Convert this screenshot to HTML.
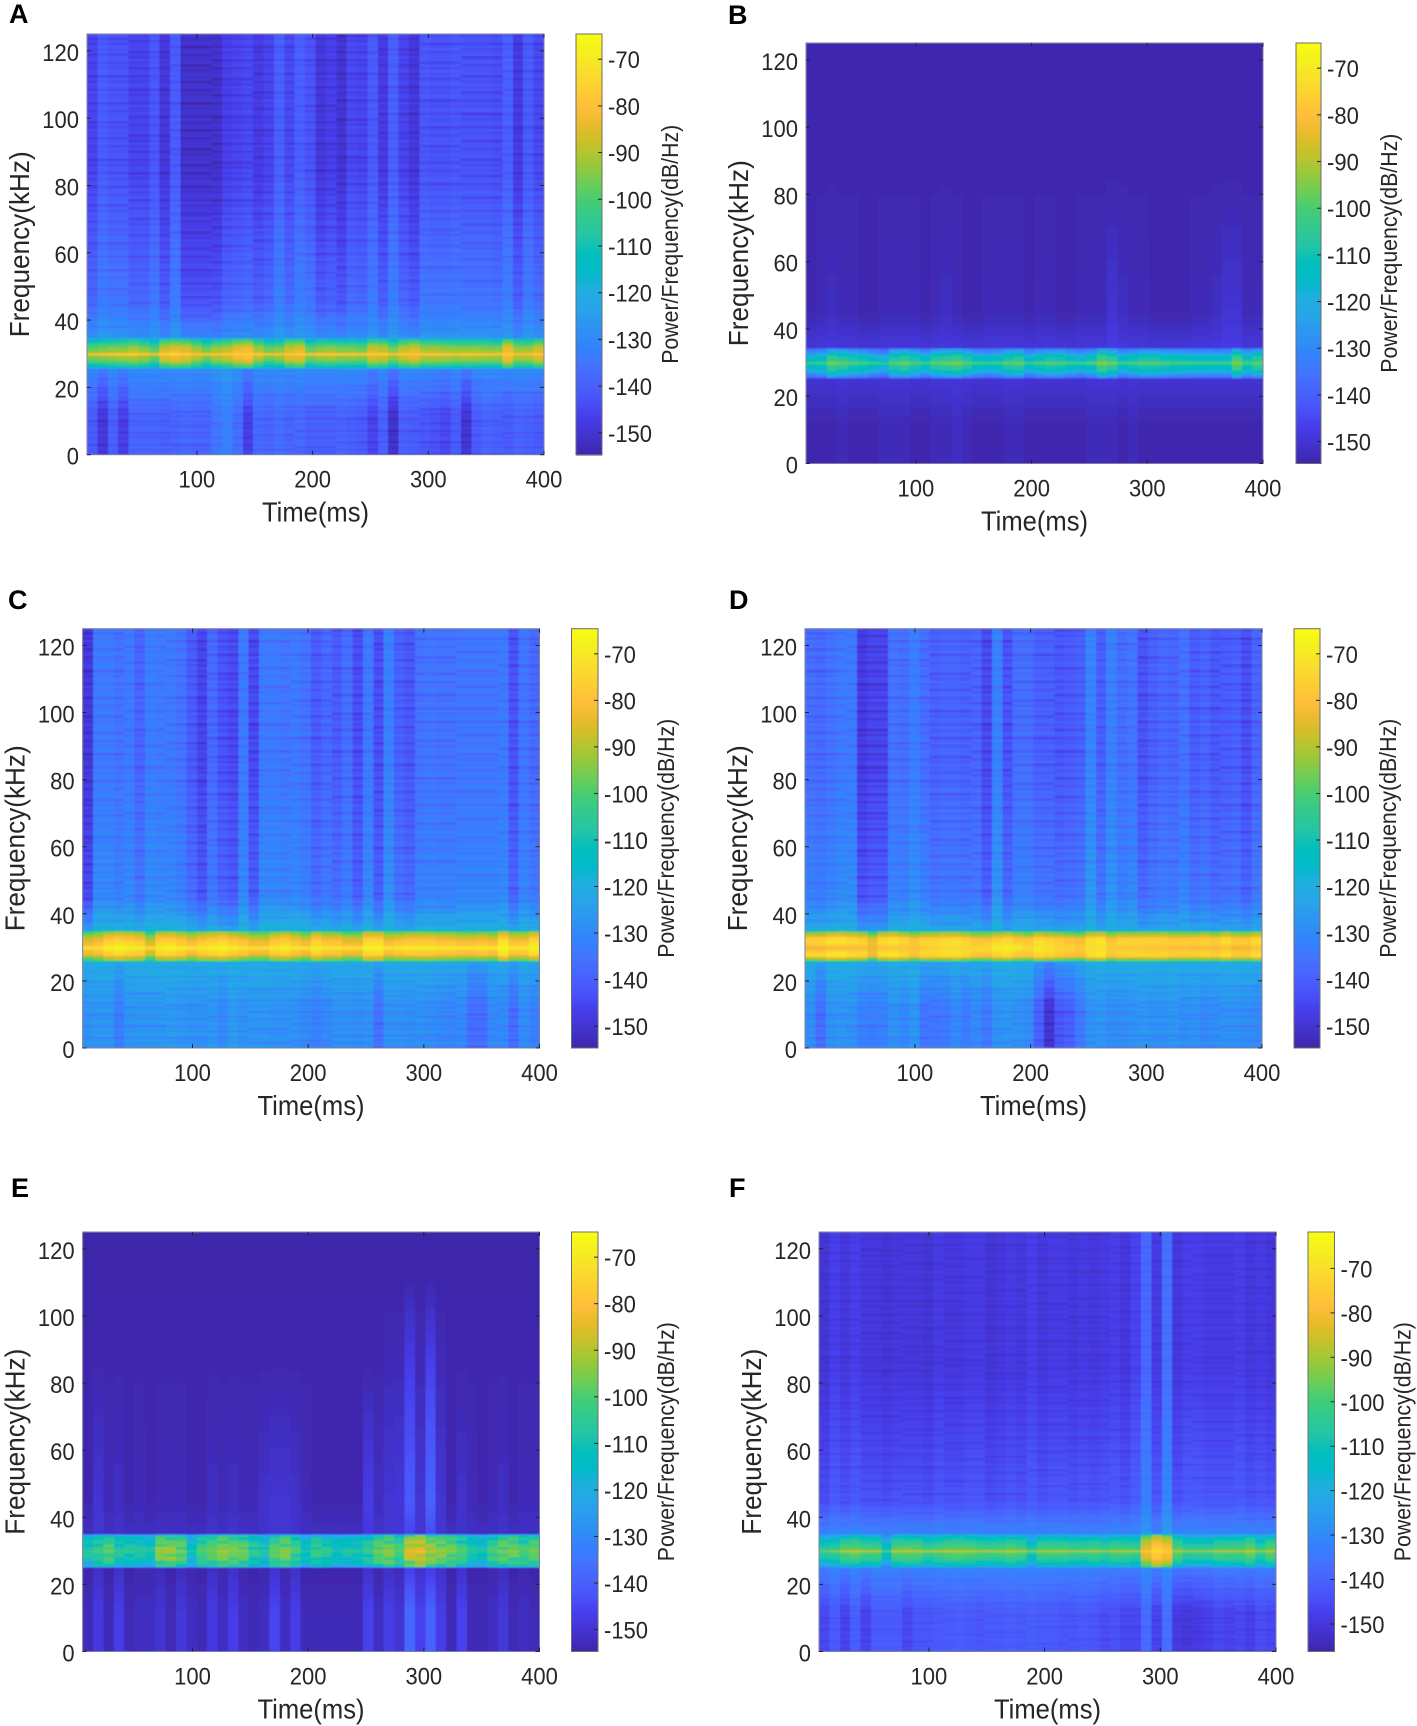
<!DOCTYPE html>
<html lang="en">
<head>
<meta charset="utf-8">
<title>Spectrogram panels A-F</title>
<style>
html,body{margin:0;padding:0;background:#fff;}
svg{display:block;}
text{font-family:"Liberation Sans",Arial,sans-serif;fill:#262626;}
.letter{font-size:27px;font-weight:bold;fill:#000;}
.axt{font-size:28px;text-anchor:middle;}
.cbt{font-size:23px;text-anchor:middle;}
.tick{font-size:24px;}
</style>
</head>
<body>
<svg id="figure" xmlns="http://www.w3.org/2000/svg" width="1417" height="1726" viewBox="0 0 1417 1726">
<defs>
<filter id="soft" x="-2%" y="-2%" width="104%" height="104%"><feGaussianBlur stdDeviation="0.55"/></filter>
<clipPath id="clip-A"><rect x="87" y="34" width="457" height="420.7"/></clipPath>
<clipPath id="clip-B"><rect x="806" y="43" width="457" height="420.5"/></clipPath>
<clipPath id="clip-C"><rect x="82.6" y="628.7" width="457" height="419.3"/></clipPath>
<clipPath id="clip-D"><rect x="805" y="628.7" width="457" height="419.3"/></clipPath>
<clipPath id="clip-E"><rect x="82.6" y="1232" width="457" height="419.5"/></clipPath>
<clipPath id="clip-F"><rect x="819" y="1232" width="457" height="419.5"/></clipPath>
</defs>
<g id="layer"></g>

<text class="letter" x="9" y="23">A</text>
<text class="axt" x="315.5" y="521.7" textLength="107" lengthAdjust="spacingAndGlyphs">Time(ms)</text>
<text class="axt" transform="translate(29,244.3) rotate(-90)" textLength="186" lengthAdjust="spacingAndGlyphs">Frequency(kHz)</text>
<text class="cbt" transform="translate(678,244.3) rotate(-90)" textLength="239" lengthAdjust="spacingAndGlyphs">Power/Frequency(dB/Hz)</text>

<text class="letter" x="728" y="24">B</text>
<text class="axt" x="1034.5" y="530.5" textLength="107" lengthAdjust="spacingAndGlyphs">Time(ms)</text>
<text class="axt" transform="translate(748,253.2) rotate(-90)" textLength="186" lengthAdjust="spacingAndGlyphs">Frequency(kHz)</text>
<text class="cbt" transform="translate(1397,253.2) rotate(-90)" textLength="239" lengthAdjust="spacingAndGlyphs">Power/Frequency(dB/Hz)</text>

<text class="letter" x="8" y="609">C</text>
<text class="axt" x="311" y="1115" textLength="107" lengthAdjust="spacingAndGlyphs">Time(ms)</text>
<text class="axt" transform="translate(24.6,838.3) rotate(-90)" textLength="186" lengthAdjust="spacingAndGlyphs">Frequency(kHz)</text>
<text class="cbt" transform="translate(674,838.3) rotate(-90)" textLength="239" lengthAdjust="spacingAndGlyphs">Power/Frequency(dB/Hz)</text>

<text class="letter" x="729" y="609">D</text>
<text class="axt" x="1033.5" y="1115" textLength="107" lengthAdjust="spacingAndGlyphs">Time(ms)</text>
<text class="axt" transform="translate(747,838.3) rotate(-90)" textLength="186" lengthAdjust="spacingAndGlyphs">Frequency(kHz)</text>
<text class="cbt" transform="translate(1396,838.3) rotate(-90)" textLength="239" lengthAdjust="spacingAndGlyphs">Power/Frequency(dB/Hz)</text>

<text class="letter" x="11" y="1197">E</text>
<text class="axt" x="311" y="1718.5" textLength="107" lengthAdjust="spacingAndGlyphs">Time(ms)</text>
<text class="axt" transform="translate(24.6,1441.7) rotate(-90)" textLength="186" lengthAdjust="spacingAndGlyphs">Frequency(kHz)</text>
<text class="cbt" transform="translate(674,1441.7) rotate(-90)" textLength="239" lengthAdjust="spacingAndGlyphs">Power/Frequency(dB/Hz)</text>

<text class="letter" x="729" y="1197">F</text>
<text class="axt" x="1047.5" y="1718.5" textLength="107" lengthAdjust="spacingAndGlyphs">Time(ms)</text>
<text class="axt" transform="translate(761,1441.7) rotate(-90)" textLength="186" lengthAdjust="spacingAndGlyphs">Frequency(kHz)</text>
<text class="cbt" transform="translate(1410.5,1441.7) rotate(-90)" textLength="239" lengthAdjust="spacingAndGlyphs">Power/Frequency(dB/Hz)</text>
</svg>

<script>
/* Axis tick labels */
const timeTicks = [100, 200, 300, 400];
const freqTicks = [0, 20, 40, 60, 80, 100, 120];
const dbTicks = [-70, -80, -90, -100, -110, -120, -130, -140, -150];

/* Panel A: dB per time column */
const topA = [-146,-141,-143,-143,-146,-146,-142,-149,-141,-151,-151,-151,-151,-147,-146,-145,-148,-146,-140,-145,-140,-143,-149,-147,-150,-145,-146,-141,-148,-140,-146,-149,-142,-143,-143,-142,-143,-143,-143,-144,-140,-148,-141,-145];
const lowA = [-141,-149,-140,-147,-139,-139,-139,-140,-139,-138,-139,-139,-135,-132,-137,-147,-138,-139,-137,-139,-138,-140,-140,-140,-139,-140,-141,-146,-140,-151,-140,-141,-142,-143,-145,-141,-150,-141,-139,-140,-141,-139,-140,-141];
const bandA = [-98,-96,-95,-94,-92,-95,-100,-88,-85,-87,-92,-98,-93,-90,-85,-83,-92,-98,-96,-88,-86,-98,-95,-94,-96,-96,-97,-88,-90,-96,-90,-87,-92,-92,-93,-94,-94,-94,-95,-95,-84,-93,-93,-88];
const coreA = [-76,-74,-73,-73,-73,-75,-76,-74,-72,-74,-76,-74,-75,-76,-76,-76,-74,-76,-75,-76,-75,-74,-73,-73,-73,-74,-74,-76,-72,-76,-76,-78,-75,-75,-75,-76,-74,-75,-75,-76,-76,-78,-76,-76];

/* Panel B */
const topB = [-154,-154,-154,-154,-154,-154,-154,-154,-154,-154,-154,-154,-154,-154,-154,-154,-154,-154,-154,-154,-154,-154,-154,-154,-154,-154,-154,-154,-154,-154,-154,-154,-154,-154,-154,-154,-154,-154,-154,-154,-154,-154,-154,-154];
const midB = [-154,-153,-152,-153,-153,-154,-154,-153,-153,-153,-153,-154,-153,-152,-153,-154,-154,-153,-153,-153,-153,-154,-153,-153,-154,-154,-153,-153,-153,-150,-152,-153,-153,-154,-154,-154,-154,-153,-153,-152,-150,-150,-153,-153];
const lowB = [-154,-154,-154,-153,-154,-154,-154,-153,-153,-153,-154,-154,-153,-153,-152,-153,-154,-154,-154,-153,-153,-154,-154,-154,-154,-154,-154,-153,-153,-153,-154,-153,-154,-154,-154,-154,-154,-154,-154,-154,-154,-154,-154,-154];
const bandB = [-114,-112,-102,-105,-108,-110,-114,-117,-106,-104,-108,-113,-106,-104,-102,-107,-112,-114,-112,-107,-105,-114,-110,-108,-108,-112,-114,-110,-100,-104,-113,-110,-107,-107,-109,-110,-111,-112,-112,-113,-112,-100,-110,-105];
const coreB = [-100,-99,-93,-94,-97,-98,-99,-100,-96,-93,-97,-98,-95,-93,-92,-96,-98,-99,-98,-95,-94,-98,-96,-95,-96,-98,-98,-95,-92,-93,-97,-96,-95,-95,-96,-97,-97,-98,-98,-98,-97,-92,-97,-95];

/* Panel C */
const topC = [-149,-134,-134,-136,-134,-139,-133,-134,-134,-136,-141,-146,-138,-143,-145,-134,-145,-134,-134,-135,-134,-136,-141,-138,-141,-137,-144,-134,-144,-132,-140,-142,-136,-135,-136,-136,-135,-135,-135,-135,-134,-143,-135,-138];
const lowC = [-128,-127,-127,-133,-128,-127,-127,-127,-126,-127,-128,-128,-127,-130,-126,-128,-127,-127,-128,-128,-128,-130,-132,-130,-128,-128,-129,-128,-136,-128,-128,-129,-128,-129,-130,-131,-130,-137,-137,-130,-130,-137,-129,-132];
const bandC = [-85,-82,-76,-74,-76,-78,-88,-76,-75,-78,-82,-78,-76,-74,-78,-80,-84,-84,-78,-76,-80,-84,-76,-80,-80,-84,-84,-74,-74,-82,-80,-78,-78,-78,-80,-80,-82,-82,-80,-82,-72,-80,-80,-74];
const coreC = [-70,-70,-67,-67,-67,-68,-72,-68,-67,-68,-69,-68,-68,-67,-68,-69,-70,-70,-68,-68,-69,-70,-68,-69,-69,-70,-70,-67,-67,-69,-68,-68,-68,-68,-68,-68,-69,-69,-68,-69,-66,-68,-68,-67];

/* Panel D */
const topD = [-137,-138,-136,-134,-134,-148,-146,-146,-136,-137,-133,-137,-140,-139,-139,-140,-139,-145,-132,-143,-137,-137,-140,-140,-142,-141,-140,-131,-140,-132,-137,-135,-143,-140,-138,-139,-136,-141,-139,-142,-141,-140,-144,-139];
const lowD = [-129,-137,-128,-127,-128,-132,-133,-132,-128,-130,-127,-135,-135,-134,-130,-133,-130,-134,-128,-127,-128,-129,-140,-150,-142,-140,-134,-128,-127,-129,-129,-128,-127,-128,-128,-127,-129,-128,-130,-129,-128,-128,-129,-130];
const bandD = [-74,-74,-70,-70,-72,-74,-82,-72,-70,-74,-78,-74,-74,-72,-72,-74,-78,-78,-74,-72,-76,-78,-72,-74,-76,-78,-80,-72,-70,-78,-74,-74,-74,-74,-74,-76,-76,-76,-74,-76,-72,-76,-76,-72];
const coreD = [-84,-84,-82,-82,-82,-82,-84,-80,-79,-79,-79,-77,-76,-74,-74,-74,-73,-73,-70,-69,-70,-73,-70,-73,-74,-74,-76,-73,-72,-76,-78,-78,-79,-79,-80,-80,-80,-82,-82,-82,-80,-84,-84,-80];

/* Panel E */
const topE = [-154,-154,-154,-154,-154,-154,-154,-154,-154,-154,-154,-154,-154,-154,-154,-154,-154,-154,-154,-154,-154,-154,-154,-154,-154,-154,-154,-154,-154,-153,-153,-147,-153,-146,-153,-154,-154,-154,-154,-154,-154,-154,-154,-154];
const midE = [-154,-150,-153,-152,-154,-153,-154,-153,-153,-153,-154,-154,-152,-153,-152,-153,-153,-151,-150,-150,-151,-153,-154,-154,-154,-154,-154,-147,-152,-150,-149,-141,-150,-139,-150,-154,-151,-153,-154,-153,-152,-154,-153,-153];
const lowE = [-153,-148,-153,-147,-153,-152,-152,-150,-153,-149,-152,-153,-148,-152,-147,-152,-153,-152,-145,-152,-147,-153,-153,-153,-153,-153,-153,-146,-152,-147,-150,-138,-146,-139,-147,-153,-146,-153,-153,-152,-149,-153,-152,-153];
const bandE = [-107,-102,-98,-106,-106,-107,-109,-93,-92,-96,-110,-100,-97,-92,-95,-96,-104,-108,-98,-94,-100,-110,-102,-105,-110,-108,-108,-103,-96,-93,-100,-86,-84,-90,-93,-95,-100,-108,-110,-100,-96,-95,-100,-97];
const coreE = [-104,-100,-96,-103,-103,-104,-106,-91,-90,-94,-107,-98,-95,-90,-93,-94,-101,-105,-96,-92,-98,-107,-100,-102,-107,-105,-105,-100,-94,-91,-97,-83,-81,-88,-91,-93,-98,-105,-107,-98,-94,-92,-98,-94];

/* Panel F */
const topF = [-151,-148,-150,-148,-150,-150,-151,-150,-150,-150,-151,-149,-150,-150,-149,-149,-151,-150,-149,-150,-148,-150,-149,-149,-150,-149,-150,-149,-148,-150,-147,-139,-149,-137,-150,-148,-148,-149,-149,-149,-148,-150,-149,-150];
const lowF = [-146,-142,-147,-141,-147,-142,-142,-142,-146,-143,-143,-142,-142,-141,-142,-143,-142,-142,-141,-142,-141,-142,-142,-143,-143,-142,-143,-145,-144,-146,-146,-138,-147,-137,-149,-150,-149,-148,-146,-147,-146,-148,-145,-146];
const bandF = [-106,-104,-98,-97,-100,-100,-112,-98,-97,-98,-102,-100,-98,-97,-98,-100,-101,-100,-98,-100,-108,-100,-100,-100,-102,-102,-100,-103,-100,-100,-102,-82,-74,-78,-98,-104,-104,-104,-100,-100,-100,-96,-104,-98];
const coreF = [-94,-90,-85,-84,-85,-86,-96,-85,-84,-84,-86,-85,-84,-84,-85,-85,-86,-86,-85,-86,-90,-86,-86,-86,-87,-87,-86,-88,-86,-86,-86,-76,-70,-74,-86,-88,-88,-88,-86,-85,-86,-84,-88,-85];

/* Fine horizontal streak offsets in dB, row by row */
const rowStreak = [0.5,-1.2,0.8,0.2,-2.1,1.0,0.3,-0.6,1.2,-1.5,0.4,0.9,-0.8,0.1,-2.4,0.7,1.1,-0.4,0.2,-1.3,0.9,0.5,-1.8,0.6,-0.2,1.0,-1.0,0.3,-2.0,0.8,0.4];

/* MATLAB parula, RGB 0-255 */
const parula = [[62,38,168],[66,50,204],[70,60,233],[72,82,248],[71,99,253],[66,117,254],[50,131,252],[46,147,243],[39,163,234],[32,174,224],[3,186,200],[2,191,188],[36,197,166],[49,202,141],[72,205,114],[114,205,82],[157,200,55],[197,194,42],[230,187,41],[254,190,60],[253,205,50],[249,222,45],[245,239,30],[249,251,21]];

const timeStart = 5;
const timeEnd = 400;
const columnCount = 44;
const freqMax = 125;

const panels = [
 {id:'a',L:87,T:34,R:544,B:454.7,cL:576,cR:602,dbMin:-154.7,dbMax:-64.6,top:topA,low:lowA,band:bandA,core:coreA,midLift:8,up:-128,dn:-130,lo:25.8,hi:34.7,drop:22,bandLift:3,streak:1.4,bandTex:0.5,coreW:0.6},
 {id:'b',L:806,T:43,R:1263,B:463.5,cL:1296,cR:1321,dbMin:-154.7,dbMax:-64.6,top:topB,mid:midB,low:lowB,band:bandB,core:coreB,midLift:0,up:-149,dn:-150,lo:25.6,hi:34.4,drop:22,bandLift:0,streak:0,bandTex:0.5,coreW:0.6},
 {id:'c',L:82.6,T:628.7,R:539.5,B:1048,cL:571.5,cR:598,dbMin:-154.7,dbMax:-64.6,top:topC,low:lowC,band:bandC,core:coreC,midLift:4,up:-120,dn:-122,lo:26,hi:35,drop:20,bandLift:3,streak:1.8,bandTex:0.5,coreW:0.8},
 {id:'d',L:805,T:628.7,R:1262,B:1048,cL:1294,cR:1320,dbMin:-154.7,dbMax:-64.6,top:topD,low:lowD,band:bandD,core:coreD,midLift:5,up:-122,dn:-122,lo:26,hi:35,drop:22,bandLift:0,streak:1.8,bandTex:0.5,coreW:1.6},
 {id:'e',L:82.6,T:1232,R:539.5,B:1651.5,cL:571.5,cR:598,dbMin:-154.7,dbMax:-64.6,top:topE,mid:midE,low:lowE,band:bandE,core:coreE,midLift:0,up:-151,dn:-153,lo:25.2,hi:35,drop:10,bandLift:-2,streak:0,bandTex:3,coreW:0.6,fade:-154.5},
 {id:'f',L:819,T:1232,R:1276,B:1651.5,cL:1308,cR:1334.5,dbMin:-156.2,dbMax:-61.8,top:topF,low:lowF,band:bandF,core:coreF,midLift:6,up:-131,dn:-133,lo:25.2,hi:35,drop:18,bandLift:0,streak:0.8,bandTex:0.8,coreW:0.6}
];

const NS = 'http://www.w3.org/2000/svg';
function svgEl(tag, parent, attrs) {
  const el = document.createElementNS(NS, tag);
  for (const k in attrs) el.setAttribute(k, attrs[k]);
  parent.appendChild(el);
  return el;
}
function colorFor(t) {
  const v = Math.max(0, Math.min(1, t)) * (parula.length - 1);
  const i = Math.min(parula.length - 2, Math.floor(v));
  const f = v - i;
  const a = parula[i], b = parula[i + 1];
  return 'rgb(' + Math.round(a[0] + (b[0] - a[0]) * f) + ',' + Math.round(a[1] + (b[1] - a[1]) * f) + ',' + Math.round(a[2] + (b[2] - a[2]) * f) + ')';
}
function interp(xs, ys, x) {
  if (x <= xs[0]) return ys[0];
  for (let i = 1; i < xs.length; i++) {
    if (x <= xs[i]) return ys[i - 1] + (ys[i] - ys[i - 1]) * (x - xs[i - 1]) / (xs[i] - xs[i - 1]);
  }
  return ys[ys.length - 1];
}
function mean(a) { return a.reduce(function (s, v) { return s + v; }, 0) / a.length; }
function labelWidth(s) {
  let w = 0;
  for (const ch of String(s)) w += (ch === '-') ? 0.333 : 0.556;
  return w * 22;
}

/* Frequency row edges: finer through the carrier band */
const rowEdges = [];
for (let f = 0; f < 24; f += 0.7) rowEdges.push(f);
for (let f = 24; f < 37; f += 0.33) rowEdges.push(f);
for (let f = 37; f < freqMax; f += 0.8) rowEdges.push(f);
rowEdges.push(freqMax);

const layer = document.getElementById('layer');

panels.forEach(function (p) {
  const xScale = function (t) { return p.L + (t - timeStart) / (timeEnd - timeStart) * (p.R - p.L); };
  const yScale = function (f) { return p.B - f / freqMax * (p.B - p.T); };
  const dbY = function (d) { return p.B - (d - p.dbMin) / (p.dbMax - p.dbMin) * (p.B - p.T); };
  const dbT = function (d) { return (d - p.dbMin) / (p.dbMax - p.dbMin); };
  const midOf = function (c) { return p.mid ? p.mid[c] : p.top[c] + p.midLift; };
  const midVals = p.top.map(function (_, c) { return midOf(c); });
  const midMean = mean(midVals);
  const lowMean = mean(p.low);

  const g = svgEl('g', layer, {});
  
  

  const heat = svgEl('g', g, {'clip-path': 'url(#clip-' + p.id.toUpperCase() + ')'});
  
  
  const inner = svgEl('g', heat, {filter: 'url(#soft)', 'shape-rendering': 'crispEdges'});

  const dt = (timeEnd - timeStart) / columnCount;
  const w = p.coreW;
  for (let c = 0; c < columnCount; c++) {
    const up = p.up + 0.5 * (midVals[c] - midMean);
    const dn = p.dn + 0.5 * (p.low[c] - lowMean);
    const b = p.band[c] + p.bandLift, d = p.drop;
    const fs = [0, 12, p.lo - 0.3, p.lo + 0.3, Math.min(p.lo + 1.5, 30 - w - 1.3), 30 - w - 1.2, 30 - w, 30, 30 + w, 30 + w + 1.2, Math.max(p.hi - 1.5, 30 + w + 1.3), p.hi - 0.3, p.hi + 0.3, 45, 85];
    const vs = [p.low[c], p.low[c], dn, b - d, b - d * 0.55, b - d * 0.12, b, p.core[c], b, b - d * 0.12, b - d * 0.55, b - d, up, midVals[c], p.top[c]];
    if (p.fade !== undefined) { fs.push(112); vs.push(p.fade); }
    fs.push(125);
    vs.push(p.fade !== undefined ? p.fade : p.top[c]);
    const x0 = xScale(timeStart + c * dt), x1 = xScale(timeStart + (c + 1) * dt);
    for (let r = 0; r < rowEdges.length - 1; r++) {
      const fc = (rowEdges[r] + rowEdges[r + 1]) / 2;
      let v = interp(fs, vs, fc);
      if (v < -118) v += p.streak * rowStreak[(r + (c >> 2) * 5) % rowStreak.length];
      else if (Math.abs(fc - 30) > 0.7) v += p.bandTex * rowStreak[(Math.floor(r / 3) + c * 3) % rowStreak.length];
      const y1 = yScale(rowEdges[r]), y0 = yScale(rowEdges[r + 1]);
      const cell = svgEl('rect', inner, {x: x0.toFixed(1), y: y0.toFixed(1), width: (x1 - x0 + 0.6).toFixed(1), height: (y1 - y0 + 0.6).toFixed(1), fill: colorFor(dbT(v))});
      
      
    }
  }

  const frame = svgEl('rect', g, {x: p.L, y: p.T, width: p.R - p.L, height: p.B - p.T, fill: 'none', stroke: '#7b7f9f', 'stroke-width': 1});
  
  

  timeTicks.forEach(function (t) {
    const x = xScale(t);
    const m1 = svgEl('line', g, {x1: x, x2: x, y1: p.B, y2: p.B - 4, stroke: '#262626', 'stroke-width': 1});
    
    
    const m2 = svgEl('line', g, {x1: x, x2: x, y1: p.T, y2: p.T + 4, stroke: '#262626', 'stroke-width': 1});
    
    
    const lb = svgEl('text', g, {x: x, y: p.B + 33, 'text-anchor': 'middle', 'class': 'tick', textLength: labelWidth(t).toFixed(1), lengthAdjust: 'spacingAndGlyphs'});
    lb.textContent = t;
    
    
  });

  freqTicks.forEach(function (f) {
    const y = yScale(f);
    const m1 = svgEl('line', g, {x1: p.L, x2: p.L + 4, y1: y, y2: y, stroke: '#262626', 'stroke-width': 1});
    
    
    const m2 = svgEl('line', g, {x1: p.R, x2: p.R - 4, y1: y, y2: y, stroke: '#262626', 'stroke-width': 1});
    
    
    const lb = svgEl('text', g, {x: p.L - 8, y: y + 10, 'text-anchor': 'end', 'class': 'tick', textLength: labelWidth(f).toFixed(1), lengthAdjust: 'spacingAndGlyphs'});
    lb.textContent = f;
    
    
  });

  const cb = svgEl('g', g, {'shape-rendering': 'crispEdges'});
  
  
  const steps = 128;
  for (let i = 0; i < steps; i++) {
    const d0 = p.dbMin + (p.dbMax - p.dbMin) * i / steps;
    const d1 = p.dbMin + (p.dbMax - p.dbMin) * (i + 1) / steps;
    const s = svgEl('rect', cb, {x: p.cL, y: dbY(d1).toFixed(1), width: p.cR - p.cL, height: (dbY(d0) - dbY(d1) + 0.6).toFixed(1), fill: colorFor((i + 0.5) / steps)});
    
    
  }
  const cf = svgEl('rect', g, {x: p.cL, y: p.T, width: p.cR - p.cL, height: p.B - p.T, fill: 'none', stroke: '#6e6e6e', 'stroke-width': 1});
  
  

  dbTicks.forEach(function (d) {
    const y = dbY(d);
    const m = svgEl('line', g, {x1: p.cR, x2: p.cR - 4, y1: y, y2: y, stroke: '#262626', 'stroke-width': 1});
    
    
    const lb = svgEl('text', g, {x: p.cR + 6, y: y + 9, 'class': 'tick', textLength: labelWidth(d).toFixed(1), lengthAdjust: 'spacingAndGlyphs'});
    lb.textContent = d;
    
    
  });
});
</script>
</body>
</html>
